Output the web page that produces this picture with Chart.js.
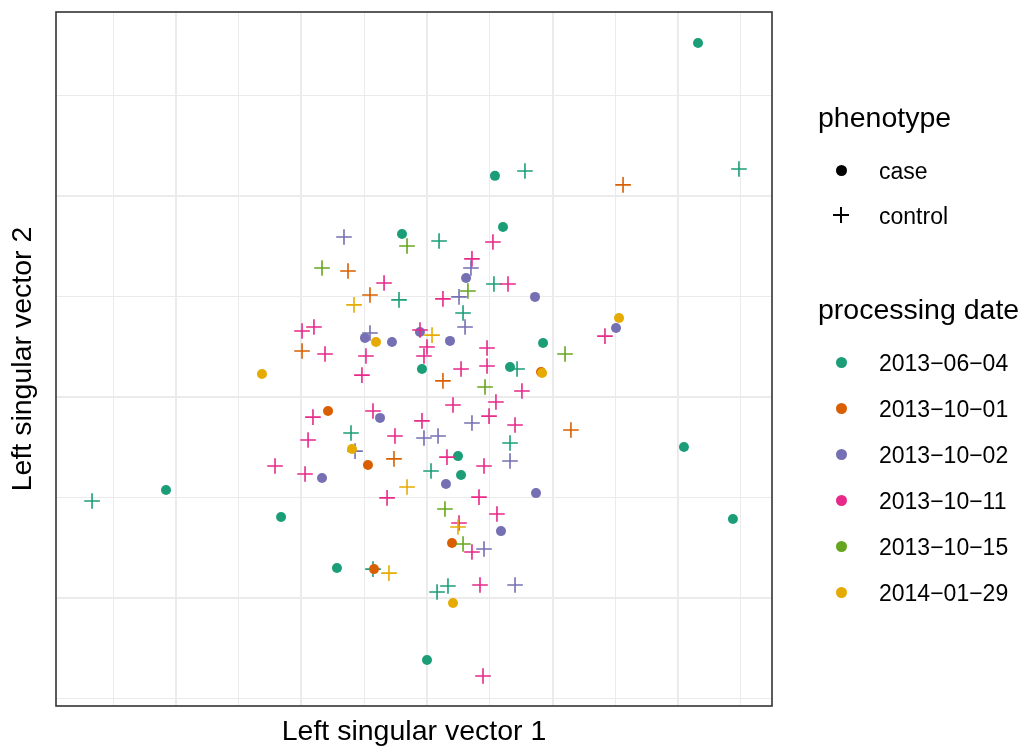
<!DOCTYPE html>
<html>
<head>
<meta charset="utf-8">
<title>Left singular vectors</title>
<script src="https://cdn.jsdelivr.net/npm/chart.js@4.4.1/dist/chart.umd.min.js"></script>
<style>
    body { margin: 0; background: #fff; }
    #wrap {
        position: relative;
        width: 1030px;
        height: 751px;
        font-family: "Liberation Sans", Arial, Helvetica, sans-serif;
        color: #000;
    }
    #chart { position: absolute; left: 0; top: 0; }
    .lg { position: absolute; line-height: 1; white-space: nowrap; }
    .lg-title { font-size: 28.5px; }
    .lg-label { font-size: 23px; }
    .lg-dot { position: absolute; width: 11px; height: 11px; border-radius: 50%; }
    .lg-bar { position: absolute; background: #000; }
</style>
</head>
<body>
<div id="wrap">
    <canvas id="chart" width="1030" height="751"></canvas>
    <div id="legend"></div>
</div>
<script>
// Axis frame (data units) and grid positions
const xRange = [-2.954, 2.747];
const yRange = [-1.537, 1.915];
const xTicks = [-2.5, -2, -1.5, -1, -0.5, 0, 0.5, 1, 1.5, 2, 2.5];
const yTicks = [-1.5, -1, -0.5, 0, 0.5, 1, 1.5];

// Legend categories
const phenotypes = ['case', 'control'];
const dates = ['2013\u221206\u221204', '2013\u221210\u221201', '2013\u221210\u221202',
               '2013\u221210\u221211', '2013\u221210\u221215', '2014\u221201\u221229'];
const colors = ['#1b9e77', '#d95f02', '#7570b3', '#e7298a', '#66a61e', '#e6ab02'];

// Points [x, y] per processing date and phenotype
const case0604 = [[2.158, 1.761], [0.541, 1.100], [-0.199, 0.811], [0.605, 0.846], [0.924, 0.269],
                  [-0.040, 0.139], [0.661, 0.149], [0.247, -0.294], [0.271, -0.388], [-2.078, -0.463],
                  [-1.162, -0.597], [2.046, -0.249], [2.436, -0.607], [-0.717, -0.851], [0.000, -1.308]];
const control0604 = [[2.484, 1.134], [0.780, 1.124], [0.096, 0.776], [-0.223, 0.483], [0.533, 0.562],
                     [0.287, 0.418], [0.717, 0.139], [-0.605, -0.179], [0.661, -0.229], [0.032, -0.368],
                     [-2.667, -0.517], [-0.430, -0.856], [0.080, -0.970], [0.167, -0.940]];

const case1001 = [[-0.788, -0.070], [-0.470, -0.338], [0.199, -0.726], [-0.422, -0.856], [0.908, 0.124]];
const control1001 = [[1.561, 1.055], [-0.629, 0.627], [-0.454, 0.507], [-0.995, 0.229], [0.127, 0.080],
                     [-0.263, -0.308], [1.146, -0.164]];

const case1002 = [[0.311, 0.592], [0.860, 0.498], [1.505, 0.343], [-0.494, 0.294], [-0.279, 0.274],
                  [-0.056, 0.323], [0.183, 0.279], [-0.374, -0.104], [-0.836, -0.403], [0.151, -0.433],
                  [0.868, -0.478], [0.589, -0.667]];
const control1002 = [[-0.661, 0.796], [0.350, 0.642], [0.255, 0.498], [0.303, 0.348], [-0.454, 0.318],
                     [0.358, -0.129], [-0.024, -0.204], [0.088, -0.194], [-0.573, -0.269], [0.661, -0.318],
                     [0.454, -0.756], [0.701, -0.935]];

const case1011 = [];
const control1011 = [[0.525, 0.771], [0.358, 0.687], [0.645, 0.562], [-0.342, 0.567], [0.127, 0.488],
                     [-0.995, 0.328], [-0.900, 0.348], [-0.056, 0.333], [-0.812, 0.214], [-0.486, 0.204],
                     [0.000, 0.249], [-0.024, 0.204], [1.417, 0.303], [0.478, 0.244], [-0.518, 0.109],
                     [0.271, 0.139], [0.478, 0.154], [0.756, 0.030], [0.207, -0.040], [0.549, -0.025],
                     [0.494, -0.095], [0.701, -0.139], [-0.430, -0.070], [-0.908, -0.100], [-0.040, -0.119],
                     [-0.947, -0.214], [-0.255, -0.194], [0.159, -0.299], [0.454, -0.343], [-1.210, -0.343],
                     [-0.971, -0.383], [-0.318, -0.502], [0.414, -0.498], [0.557, -0.582], [0.255, -0.627],
                     [0.358, -0.771], [0.422, -0.935], [0.446, -1.388]];

const case1015 = [];
const control1015 = [[-0.159, 0.751], [-0.836, 0.642], [0.326, 0.527], [1.099, 0.214], [0.462, 0.050],
                     [0.143, -0.557], [0.287, -0.731]];

const case0129 = [[-0.406, 0.274], [-1.314, 0.114], [1.529, 0.393], [0.916, 0.119], [-0.597, -0.259],
                  [0.207, -1.025]];
const control0129 = [[-0.581, 0.458], [0.040, 0.308], [-0.159, -0.448], [-0.303, -0.876], [0.247, -0.647]];

const caseByDate = [case0604, case1001, case1002, case1011, case1015, case0129];
const controlByDate = [control0604, control1001, control1002, control1011, control1015, control0129];

const FONT = '"Liberation Sans", Arial, Helvetica, sans-serif';

// Build datasets: one per date and phenotype, later dates drawn on top
const datasets = [];
dates.forEach((d, i) => {
    datasets.push({
        label: d + ' ' + phenotypes[0],
        data: caseByDate[i].map(p => ({ x: p[0], y: p[1] })),
        pointStyle: 'circle',
        pointRadius: 5,
        pointBorderWidth: 0,
        backgroundColor: colors[i],
        borderColor: colors[i],
        order: 20 - i * 2
    });
    datasets.push({
        label: d + ' ' + phenotypes[1],
        data: controlByDate[i].map(p => ({ x: p[0], y: p[1] })),
        pointStyle: 'cross',
        pointRadius: 7.8,
        pointBorderWidth: 1.6,
        backgroundColor: colors[i],
        borderColor: colors[i],
        order: 19 - i * 2
    });
});

// ggplot-like panel border drawn over the points
const panelBorder = {
    id: 'panelBorder',
    afterDatasetsDraw(chart) {
        const { ctx, chartArea: a } = chart;
        ctx.save();
        ctx.strokeStyle = '#333333';
        ctx.lineWidth = 1.6;
        ctx.strokeRect(a.left, a.top, a.right - a.left, a.bottom - a.top);
        ctx.restore();
    }
};

function gridWidth(c) {
    return c.tick && Number.isInteger(c.tick.value) ? 2 : 1;
}

new Chart(document.getElementById('chart'), {
    type: 'scatter',
    data: { datasets },
    options: {
        responsive: false,
        animation: false,
        events: [],
        layout: { padding: { top: 12, right: 258, bottom: 0, left: 0 } },
        plugins: {
            legend: { display: false },
            tooltip: { enabled: false }
        },
        scales: {
            x: {
                type: 'linear',
                min: xRange[0],
                max: xRange[1],
                afterBuildTicks: s => { s.ticks = xTicks.map(v => ({ value: v })); },
                afterFit: s => { s.height = 45; },
                ticks: { display: false },
                border: { display: false },
                grid: { color: '#ebebeb', lineWidth: gridWidth, drawTicks: false },
                title: {
                    display: true,
                    text: 'Left singular vector 1',
                    color: '#000',
                    font: { family: FONT, size: 28.5 },
                    padding: { top: 0, bottom: 2 }
                }
            },
            y: {
                type: 'linear',
                min: yRange[0],
                max: yRange[1],
                afterBuildTicks: s => { s.ticks = yTicks.map(v => ({ value: v })); },
                afterFit: s => { s.width = 56; },
                ticks: { display: false },
                border: { display: false },
                grid: { color: '#ebebeb', lineWidth: gridWidth, drawTicks: false },
                title: {
                    display: true,
                    text: 'Left singular vector 2',
                    color: '#000',
                    font: { family: FONT, size: 28.5 },
                    padding: { top: 6, bottom: 0 }
                }
            }
        }
    },
    plugins: [panelBorder]
});

// HTML legend (two titled groups like ggplot)
function buildLegend() {
    const box = document.getElementById('legend');
    const keyX = 841, textX = 879;

    function addText(text, cls, left, baseline, size) {
        const el = document.createElement('div');
        el.className = 'lg ' + cls;
        el.textContent = text;
        el.style.left = left + 'px';
        el.style.top = (baseline - 0.8465 * size) + 'px';
        box.appendChild(el);
    }
    function addDot(cx, cy, color) {
        const el = document.createElement('div');
        el.className = 'lg-dot';
        el.style.left = (cx - 5.5) + 'px';
        el.style.top = (cy - 5.5) + 'px';
        el.style.background = color;
        box.appendChild(el);
    }
    function addPlus(cx, cy) {
        const h = document.createElement('div');
        h.className = 'lg-bar';
        Object.assign(h.style, { left: (cx - 8) + 'px', top: (cy - 0.8) + 'px', width: '16px', height: '1.6px' });
        const v = document.createElement('div');
        v.className = 'lg-bar';
        Object.assign(v.style, { left: (cx - 0.8) + 'px', top: (cy - 8) + 'px', width: '1.6px', height: '16px' });
        box.appendChild(h);
        box.appendChild(v);
    }

    addText('phenotype', 'lg-title', 818, 127, 28.5);
    addDot(keyX, 170, '#000');
    addText(phenotypes[0], 'lg-label', textX, 179, 23);
    addPlus(keyX, 215);
    addText(phenotypes[1], 'lg-label', textX, 224, 23);

    addText('processing date', 'lg-title', 818, 319, 28.5);
    dates.forEach((d, i) => {
        const cy = 362 + i * 46.15;
        addDot(keyX, cy, colors[i]);
        addText(d, 'lg-label', textX, cy + 9, 23);
    });
}

buildLegend();
</script>
</body>
</html>
